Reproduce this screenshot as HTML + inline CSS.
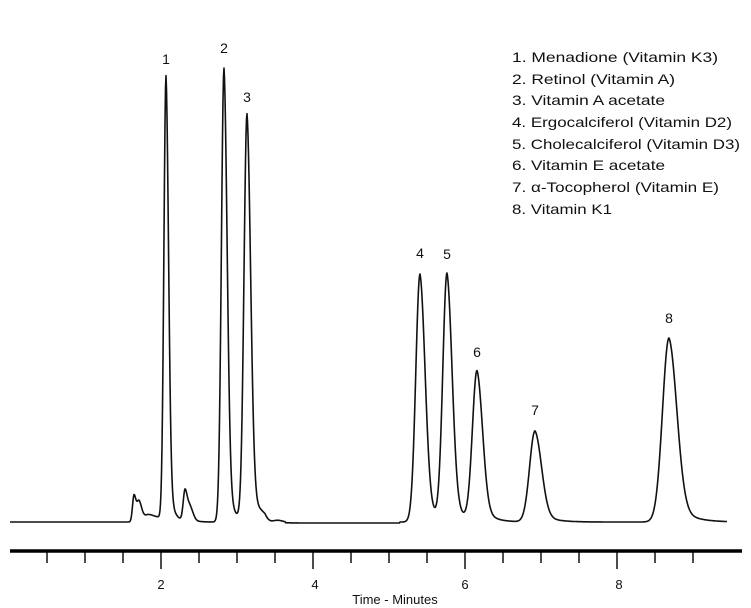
<!DOCTYPE html>
<html><head><meta charset="utf-8"><style>
html,body{margin:0;padding:0;background:#fff;}
svg{display:block;font-family:"Liberation Sans",sans-serif;}
</style></head><body>
<svg id="s" width="751" height="608" viewBox="0 0 751 608" xmlns="http://www.w3.org/2000/svg">
<path id="tr" fill="none" stroke="#111" stroke-width="1.6" stroke-linejoin="round"/>
<line x1="10" y1="551" x2="742" y2="551" stroke="#000" stroke-width="3.5"/>
<g id="ticks" stroke="#000" stroke-width="1.4"></g>
<g font-size="14" fill="#111" text-anchor="middle">
<text x="161" y="589" font-size="13">2</text><text x="315" y="589" font-size="13">4</text><text x="465" y="589" font-size="13">6</text><text x="619" y="589" font-size="13">8</text>
<text x="395" y="604" font-size="13">Time - Minutes</text>
<text x="166" y="64">1</text><text x="224" y="53">2</text><text x="247" y="102">3</text>
<text x="420" y="258">4</text><text x="447" y="259">5</text><text x="477" y="357">6</text>
<text x="535" y="415">7</text><text x="669" y="323">8</text>
</g>
<g font-size="14" fill="#111">
<text x="512" y="62" textLength="206" lengthAdjust="spacingAndGlyphs">1. Menadione (Vitamin K3)</text>
<text x="512" y="84" textLength="163" lengthAdjust="spacingAndGlyphs">2. Retinol (Vitamin A)</text>
<text x="512" y="105" textLength="153" lengthAdjust="spacingAndGlyphs">3. Vitamin A acetate</text>
<text x="512" y="127" textLength="220" lengthAdjust="spacingAndGlyphs">4. Ergocalciferol (Vitamin D2)</text>
<text x="512" y="149" textLength="228" lengthAdjust="spacingAndGlyphs">5. Cholecalciferol (Vitamin D3)</text>
<text x="512" y="170" textLength="153" lengthAdjust="spacingAndGlyphs">6. Vitamin E acetate</text>
<text x="512" y="192" textLength="207" lengthAdjust="spacingAndGlyphs">7. α-Tocopherol (Vitamin E)</text>
<text x="512" y="214" textLength="100" lengthAdjust="spacingAndGlyphs">8. Vitamin K1</text>
</g>
</svg>
<script>
var base=522;
var pk=[[166,444,2.1],[224,454,2.6],[247,407,3.0],[420,248,4.2],[447,247,4.2],[477,150,4.6],[535,91,5.4],[669,184,6.5],
[134,26,1.5],[139,20,2.2],[185,30,1.8],[190,14,2.5],[148,6,4],[262,5,5],[158,4,6]];
var d="";
for(var x=10;x<=727;x+=0.5){
 var y=0;
 for(var i=0;i<pk.length;i++){var p=pk[i],dx=x-p[0];
  if(dx<=0) y+=p[1]*Math.exp(-dx*dx/(2*p[2]*p[2]));
  else y+=p[1]*(0.85*Math.exp(-dx*dx/(2*p[2]*p[2]*1.5))+0.15*Math.exp(-dx/(p[2]*2.2)));}
 if(x>265&&x<285)y+=-4*Math.sin((x-265)/3.2)*Math.exp(-(x-265)/10);
 if(x>285&&x<400)y-=1;
 d+=(x==10?"M":"L")+x+","+(base-y).toFixed(1);
}
document.getElementById("tr").setAttribute("d",d);
var g=document.getElementById("ticks"),h="";
for(var t=0.5;t<=9.25;t+=0.5){var X=9+76*t;var maj=(t%2==0);h+='<line x1="'+X+'" y1="552" x2="'+X+'" y2="'+(maj?569:563)+'"/>';}
g.innerHTML=h;
</script>
</body></html>
